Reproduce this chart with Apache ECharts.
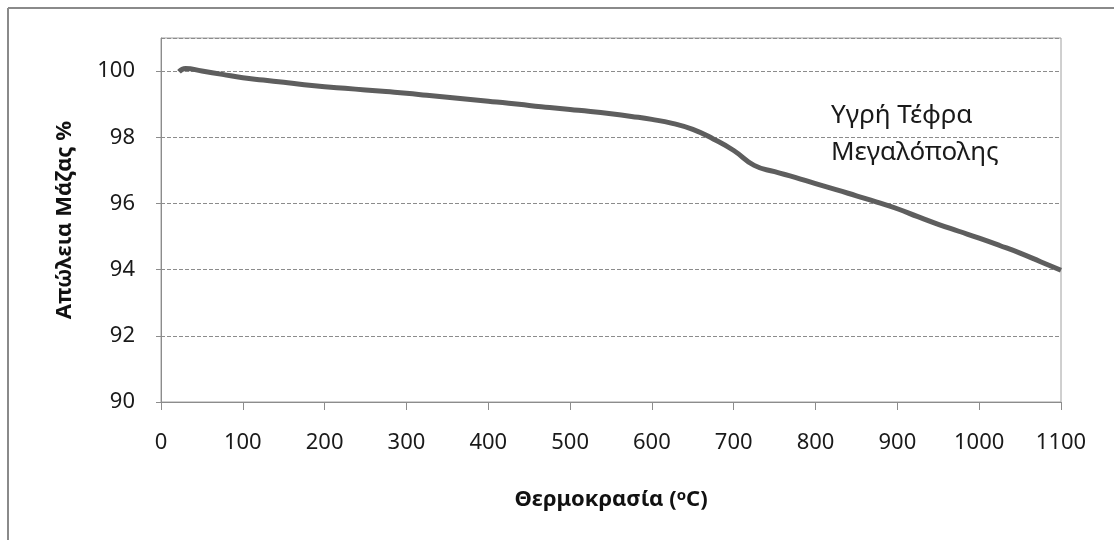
<!DOCTYPE html>
<html>
<head>
<meta charset="utf-8">
<script src="https://cdn.jsdelivr.net/npm/echarts@6/dist/echarts.min.js"></script>
<style>
html,body{margin:0;padding:0;background:#fff;}
#chart{width:1114px;height:540px;}
</style>
</head>
<body>
<div id="chart"></div>
<script>
const temperatures = [22, 30, 50, 75, 100, 125, 150, 175, 200, 225, 250, 275, 300, 325, 350, 375, 400, 425, 450, 475, 500, 525, 550, 575, 600, 625, 650, 675, 700, 725, 750, 775, 800, 825, 850, 875, 900, 925, 950, 975, 1000, 1025, 1050, 1075, 1100];
const massLoss = [99.98, 100.08, 100.0, 99.9, 99.8, 99.73, 99.66, 99.59, 99.53, 99.48, 99.43, 99.38, 99.33, 99.27, 99.21, 99.15, 99.09, 99.03, 98.96, 98.9, 98.84, 98.78, 98.71, 98.63, 98.54, 98.42, 98.24, 97.95, 97.6, 97.15, 96.96, 96.79, 96.6, 96.42, 96.23, 96.04, 95.84, 95.6, 95.37, 95.16, 94.95, 94.73, 94.5, 94.24, 93.98];
const seriesLabel = ['Υγρή Τέφρα', 'Μεγαλόπολης'];
const xTitle = 'Θερμοκρασία (';
const yTitle = 'Απώλεια Μάζας %';

const chart = echarts.init(document.getElementById('chart'), null, {renderer: 'canvas'});
const font = 'Noto Sans';
chart.setOption({
  animation: false,
  backgroundColor: '#fff',
  grid: {left: 161, top: 38, right: 53, bottom: 138, show: true, borderColor: '#a0a0a0', borderWidth: 1},
  xAxis: {
    type: 'value', min: 0, max: 1100, interval: 100,
    axisLine: {show: true, lineStyle: {color: '#8c8c8c', width: 1}},
    axisTick: {show: true, length: 8, lineStyle: {color: '#8c8c8c'}},
    splitLine: {show: false},
    axisLabel: {margin: 30, color: '#1a1a1a', fontFamily: font, fontSize: 22, formatter: v => String(v)},
    name: '{a|' + xTitle + '}{s|o}{a|C)}',
    nameLocation: 'middle', nameGap: 86,
    nameTextStyle: {
      rich: {
        a: {fontFamily: font, fontSize: 22, fontWeight: 'bold', color: '#111'},
        s: {fontFamily: font, fontSize: 15, fontWeight: 'bold', color: '#111', verticalAlign: 'top', padding: [0, 0, 9, 0]}
      }
    }
  },
  yAxis: {
    type: 'value', min: 90, max: 101, interval: 2,
    axisLine: {show: true, lineStyle: {color: '#8c8c8c', width: 1}},
    axisTick: {show: true, length: 5, lineStyle: {color: '#8c8c8c'}},
    splitLine: {show: true, lineStyle: {color: '#8c8c8c', type: [4, 2], width: 1}},
    axisLabel: {margin: 26, color: '#1a1a1a', fontFamily: font, fontSize: 22,
      showMaxLabel: false},
    name: yTitle, nameLocation: 'middle', nameGap: 85, nameRotate: 90,
    nameTextStyle: {fontFamily: font, fontSize: 22, fontWeight: 'bold', color: '#111'}
  },
  series: [{
    type: 'line',
    data: temperatures.map((t, i) => [t, massLoss[i]]),
    smooth: 0.5,
    showSymbol: false,
    lineStyle: {color: '#5e5e5e', width: 5},
    z: 3
  }],
  graphic: [
    {type: 'line', shape: {x1: 8, y1: 8, x2: 1114, y2: 8}, style: {stroke: '#8a8a8a', lineWidth: 2}},
    {type: 'line', shape: {x1: 8, y1: 8, x2: 8, y2: 540}, style: {stroke: '#8a8a8a', lineWidth: 2}},
    {type: 'text', left: 831, top: 97, style: {text: seriesLabel.join('\n'), font: '26px "Noto Sans"', fill: '#1a1a1a', lineHeight: 37}}
  ]
});
</script>
</body>
</html>
